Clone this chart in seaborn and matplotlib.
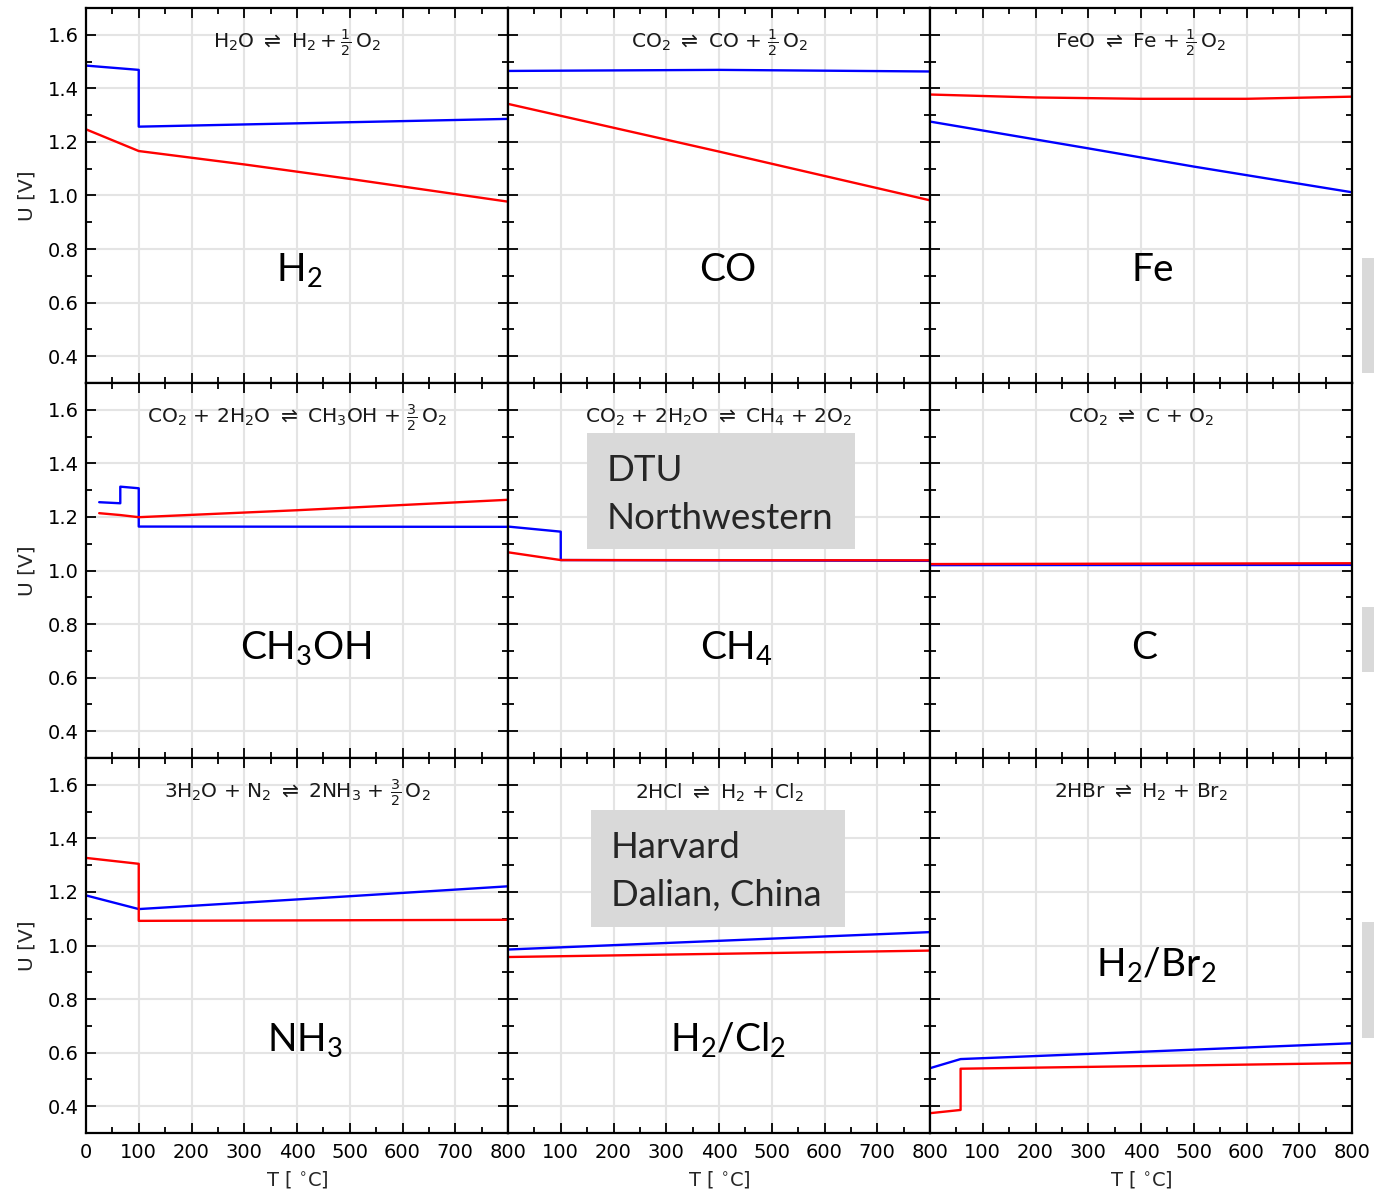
import matplotlib
matplotlib.use("Agg")
import matplotlib.pyplot as plt
import seaborn as sns
import pandas as pd
from matplotlib.patches import Rectangle

# ---------------- data ----------------
h2_T_blue = [0, 100, 100, 800]
h2_U_blue = [1.485, 1.469, 1.257, 1.286]
h2_T_red = [0, 100, 300, 500, 800]
h2_U_red = [1.247, 1.166, 1.116, 1.062, 0.977]

co_T_blue = [0, 400, 800]
co_U_blue = [1.465, 1.469, 1.463]
co_T_red = [0, 400, 800]
co_U_red = [1.342, 1.164, 0.982]

fe_T_blue = [0, 300, 500, 800]
fe_U_blue = [1.276, 1.176, 1.108, 1.012]
fe_T_red = [0, 200, 400, 600, 800]
fe_U_red = [1.377, 1.366, 1.361, 1.361, 1.369]

meoh_T_blue = [25, 65, 65, 100, 100, 800]
meoh_U_blue = [1.255, 1.251, 1.313, 1.307, 1.164, 1.163]
meoh_T_red = [25, 65, 100, 400, 800]
meoh_U_red = [1.214, 1.207, 1.199, 1.225, 1.264]

ch4_T_blue = [0, 100, 100, 800]
ch4_U_blue = [1.164, 1.145, 1.039, 1.036]
ch4_T_red = [0, 100, 800]
ch4_U_red = [1.068, 1.039, 1.038]

c_T_blue = [0, 800]
c_U_blue = [1.020, 1.021]
c_T_red = [0, 800]
c_U_red = [1.024, 1.027]

nh3_T_blue = [0, 100, 500, 800]
nh3_U_blue = [1.187, 1.136, 1.184, 1.221]
nh3_T_red = [0, 100, 100, 800]
nh3_U_red = [1.327, 1.305, 1.092, 1.096]

hcl_T_blue = [0, 800]
hcl_U_blue = [0.985, 1.050]
hcl_T_red = [0, 800]
hcl_U_red = [0.957, 0.981]

hbr_T_blue = [0, 58, 800]
hbr_U_blue = [0.542, 0.576, 0.635]
hbr_T_red = [0, 58, 58, 800]
hbr_U_red = [0.374, 0.386, 0.540, 0.561]

reactions = [
    r"H$_2$O $\rightleftharpoons$ H$_2 + \frac{1}{2}\,$O$_2$",
    r"CO$_2$ $\rightleftharpoons$ CO + $\frac{1}{2}\,$O$_2$",
    r"FeO $\rightleftharpoons$ Fe + $\frac{1}{2}\,$O$_2$",
    r"CO$_2$ + 2H$_2$O $\rightleftharpoons$ CH$_3$OH + $\frac{3}{2}\,$O$_2$",
    r"CO$_2$ + 2H$_2$O $\rightleftharpoons$ CH$_4$ + 2O$_2$",
    r"CO$_2$ $\rightleftharpoons$ C + O$_2$",
    r"3H$_2$O + N$_2$ $\rightleftharpoons$ 2NH$_3$ + $\frac{3}{2}\,$O$_2$",
    r"2HCl $\rightleftharpoons$ H$_2$ + Cl$_2$",
    r"2HBr $\rightleftharpoons$ H$_2$ + Br$_2$",
]
products = [r"H$_2$", "CO", "Fe", r"CH$_3$OH", r"CH$_4$", "C",
            r"NH$_3$", r"H$_2$/Cl$_2$", r"H$_2$/Br$_2$"]
product_pos = [(405, 0.680), (417, 0.680), (422, 0.680),
               (417, 0.670), (434, 0.670), (406, 0.670),
               (415, 0.605), (417, 0.605), (428, 0.887)]

x_ticks = [0, 100, 200, 300, 400, 500, 600, 700, 800]
y_ticks = [0.4, 0.6, 0.8, 1.0, 1.2, 1.4, 1.6]

series = [
    (h2_T_blue, h2_U_blue, h2_T_red, h2_U_red),
    (co_T_blue, co_U_blue, co_T_red, co_U_red),
    (fe_T_blue, fe_U_blue, fe_T_red, fe_U_red),
    (meoh_T_blue, meoh_U_blue, meoh_T_red, meoh_U_red),
    (ch4_T_blue, ch4_U_blue, ch4_T_red, ch4_U_red),
    (c_T_blue, c_U_blue, c_T_red, c_U_red),
    (nh3_T_blue, nh3_U_blue, nh3_T_red, nh3_U_red),
    (hcl_T_blue, hcl_U_blue, hcl_T_red, hcl_U_red),
    (hbr_T_blue, hbr_U_blue, hbr_T_red, hbr_U_red),
]

# ---------------- style ----------------
sns.set_theme(style="white")
plt.rcParams["font.family"] = ["DejaVu Sans"]
plt.rcParams["mathtext.fontset"] = "custom"
plt.rcParams["mathtext.rm"] = "Lato"
plt.rcParams["mathtext.it"] = "Lato"
plt.rcParams["mathtext.bf"] = "Lato:bold"
plt.rcParams["mathtext.sf"] = "Lato"

W, H = 1374, 1194
fig, axes = plt.subplots(3, 3, figsize=(W / 100, H / 100), dpi=100)
fig.subplots_adjust(left=86 / W, right=1352 / W, top=1 - 8 / H,
                    bottom=1 - 1133 / H, wspace=0, hspace=0)

for i, ax in enumerate(axes.flat):
    r, c = divmod(i, 3)
    Tb, Ub, Tr, Ur = series[i]
    df_b = pd.DataFrame({"T": Tb, "U": Ub})
    df_r = pd.DataFrame({"T": Tr, "U": Ur})
    sns.lineplot(data=df_b, x="T", y="U", ax=ax, color="blue", lw=1.7,
                 estimator=None, sort=False, legend=False)
    sns.lineplot(data=df_r, x="T", y="U", ax=ax, color="red", lw=1.7,
                 estimator=None, sort=False, legend=False)
    ax.set_xlim(0, 800)
    ax.set_ylim(0.3, 1.7)
    ax.set_xticks(x_ticks)
    ax.set_yticks(y_ticks)
    ax.set_xticks(range(50, 800, 100), minor=True)
    ax.set_yticks([0.3, 0.5, 0.7, 0.9, 1.1, 1.3, 1.5], minor=True)
    ax.set_axisbelow(True)
    ax.grid(True, which="major", color="#e4e4e4", lw=1.5)
    ax.tick_params(which="both", direction="in", top=True, right=True,
                   bottom=True, left=True, colors="black", width=1.3,
                   labelsize=14)
    ax.tick_params(which="major", length=7)
    ax.tick_params(which="minor", length=4)
    ax.tick_params(axis="x", which="major", pad=7)
    ax.tick_params(axis="y", which="major", pad=5)
    for sp in ax.spines.values():
        sp.set_color("black")
        sp.set_linewidth(1.6)
    ax.set_xlabel("")
    ax.set_ylabel("")
    if r < 2:
        ax.tick_params(labelbottom=False)
    else:
        labels = [str(v) for v in x_ticks]
        if c > 0:
            labels[0] = ""
        ax.set_xticklabels(labels)
        ax.set_xlabel(r"T [ $^{\circ}$C]", fontsize=14, labelpad=5,
                      math_fontfamily="dejavusans")
    if c > 0:
        ax.tick_params(labelleft=False)
    else:
        ax.set_yticklabels([f"{v:.1f}" for v in y_ticks])
        ax.set_ylabel("U [V]", fontsize=14.5, labelpad=8)
    ax.text(400, 1.570, reactions[i], ha="center", va="center",
            fontsize=14.5, color="#1a1a1a", math_fontfamily="dejavusans")
    px, py = product_pos[i]
    ax.text(px, py, products[i], ha="center", va="baseline",
            fontsize=28, family="Lato", color="black")

# gray callout boxes
def fig_box(x0, y0, x1, y1):
    fig.patches.append(Rectangle((x0 / W, 1 - y1 / H), (x1 - x0) / W,
                                 (y1 - y0) / H, transform=fig.transFigure,
                                 facecolor="#d9d9d9", edgecolor="none",
                                 zorder=5))

fig_box(587, 433, 855, 549)
fig.text(607 / W, 1 - 481 / H, "DTU", fontsize=26.5, family="Lato",
         va="baseline", ha="left", zorder=6)
fig.text(607 / W, 1 - 529 / H, "Northwestern", fontsize=26.5, family="Lato",
         va="baseline", ha="left", zorder=6)

fig_box(591, 810, 845, 927)
fig.text(611 / W, 1 - 858 / H, "Harvard", fontsize=26.2, family="Lato",
         va="baseline", ha="left", zorder=6)
fig.text(611 / W, 1 - 906 / H, "Dalian, China", fontsize=26.2, family="Lato",
         va="baseline", ha="left", zorder=6)

# slivers at right edge
fig_box(1362, 258, 1376, 373)
fig_box(1362, 607, 1376, 672)
fig_box(1362, 922, 1376, 1038)

fig.savefig("out.png", dpi=100)
